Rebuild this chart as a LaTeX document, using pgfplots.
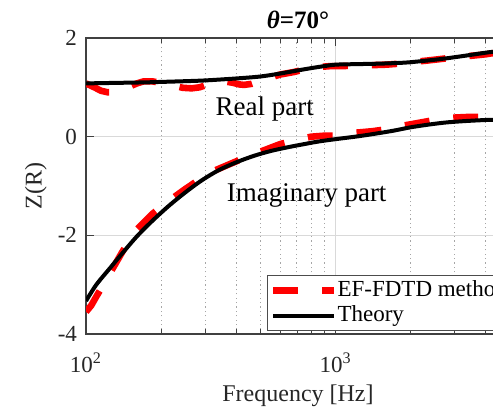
\documentclass[border=0pt]{standalone}
\usepackage{fontspec}
\setmainfont{Liberation Serif}
\usepackage{pgfplots}
\pgfplotsset{compat=1.18}

% Real and imaginary parts of Z(R) against frequency
\pgfplotstableread{
f     z
100   1.08
108   1.00
115   0.93
122   0.90
130   0.90
140   0.95
150   1.02
160   1.08
170   1.12
185   1.12
200   1.09
220   1.04
245   0.99
265   0.98
285   1.00
305   1.05
330   1.10
360   1.12
390   1.09
410   1.06
430   1.05
460   1.07
500   1.13
550   1.20
600   1.26
680   1.31
760   1.37
850   1.41
950   1.43
1050  1.43
1200  1.44
1400  1.45
1600  1.46
1800  1.48
2000  1.51
2300  1.54
2700  1.58
3100  1.62
3500  1.64
4000  1.67
5000  1.75
}\fdtdreal

\pgfplotstableread{
f     z
100   -3.55
105   -3.42
110   -3.24
118   -2.98
127   -2.70
140   -2.33
160   -1.88
185   -1.56
215   -1.30
250   -1.06
290   -0.84
330   -0.68
400   -0.50
490   -0.32
600   -0.15
700   -0.06
800    0.00
900    0.02
1000   0.02
1200   0.08
1400   0.11
1600   0.15
1800   0.21
2100   0.27
2500   0.34
2800   0.38
3400   0.40
4000   0.40
5000   0.41
}\fdtdimag

\pgfplotstableread{
f     z
100   1.08
130   1.09
170   1.10
200   1.11
250   1.125
300   1.14
400   1.18
500   1.22
600   1.28
700   1.34
800   1.39
900   1.43
1000  1.46
1200  1.47
1500  1.48
1800  1.495
2000  1.51
2400  1.55
2800  1.59
3400  1.65
4100  1.71
5000  1.76
}\theoryreal

\pgfplotstableread{
f     z
100   -3.33
110   -3.00
125   -2.66
140   -2.36
160   -2.02
185   -1.70
215   -1.40
250   -1.13
290   -0.89
340   -0.68
400   -0.52
470   -0.39
550   -0.29
650   -0.21
750   -0.15
850   -0.10
1000  -0.05
1200   0.00
1400   0.05
1700   0.12
2000   0.19
2400   0.25
2800   0.29
3400   0.32
4100   0.34
5000   0.35
}\theoryimag

\begin{document}
\begin{tikzpicture}
\begin{scope}
\clip (0pt,0pt) rectangle (246.5pt,204pt);
\begin{axis}[
  at={(43pt,37pt)}, anchor=south west,
  scale only axis, width=212pt, height=148pt,
  xmode=log, xmin=100, xmax=5000,
  ymin=-4, ymax=2,
  xtick={100,1000}, xticklabels={10\textsuperscript{2},10\textsuperscript{3}},
  minor xtick={200,300,400,500,600,700,800,900,2000,3000,4000,5000},
  ytick={-4,-2,0,2}, yticklabels={-4,-2,0,2},
  tick align=inside, major tick length=4pt, minor tick length=2.5pt,
  every tick/.style={black!75, line width=0.4pt},
  axis line style={black!75, line width=0.6pt},
  xmajorgrids, xminorgrids, ymajorgrids,
  major grid style={black!15, line width=0.5pt},
  minor grid style={black!35, dash pattern=on 0.6pt off 1.6pt, line width=0.5pt},
  tick label style={font=\fontsize{11.5}{13}\selectfont, black!85},
  xticklabel style={anchor=base, yshift=-19pt},
  yticklabel style={xshift=-1pt},
  xlabel={Frequency [Hz]}, ylabel={Z(R)},
  label style={font=\fontsize{12}{14}\selectfont, black!85},
  xlabel style={at={(axis description cs:0.5,-0.2297)}, anchor=base},
  ylabel style={at={(axis description cs:-0.118,0.5)}, anchor=center},
  title={\textbf{\textit{θ}=70°}},
  every axis title shift=0pt,
  title style={at={(axis description cs:0.5,1)}, anchor=base, yshift=5pt,
    font=\fontsize{12.5}{14}\selectfont},
  legend style={at={(rel axis cs:0.427,0.01)}, anchor=south west,
    draw=black!70, line width=0.5pt, fill=white,
    font=\fontsize{11.5}{13}\selectfont, inner sep=1.2pt, row sep=0pt,
    column sep=-1pt,
    nodes={inner sep=1pt, text height=8pt, text depth=2.5pt}},
  legend cell align=left,
  legend image code/.code={\draw[#1] (3.7pt,0pt) -- (34.2pt,0pt);},
]
\addplot[red, line width=3.3pt, dash pattern=on 12.5pt off 12pt] table[x=f,y=z] {\fdtdreal};
\addlegendentry{EF-FDTD method}
\addplot[black, line width=2pt, smooth] table[x=f,y=z] {\theoryreal};
\addlegendentry{Theory}
\addplot[red, line width=3.3pt, dash pattern=on 12.5pt off 12pt, forget plot] table[x=f,y=z] {\fdtdimag};
\addplot[black, line width=2pt, smooth, forget plot] table[x=f,y=z] {\theoryimag};
\node[anchor=base, font=\fontsize{13.5}{16}\selectfont] at (axis cs:520,0.425) {Real part};
\node[anchor=base, font=\fontsize{13.5}{16}\selectfont] at (axis cs:766,-1.316) {Imaginary part};
\end{axis}
\end{scope}
\pgfresetboundingbox
\useasboundingbox (0pt,0pt) rectangle (246.5pt,204pt);
\end{tikzpicture}
\end{document}
